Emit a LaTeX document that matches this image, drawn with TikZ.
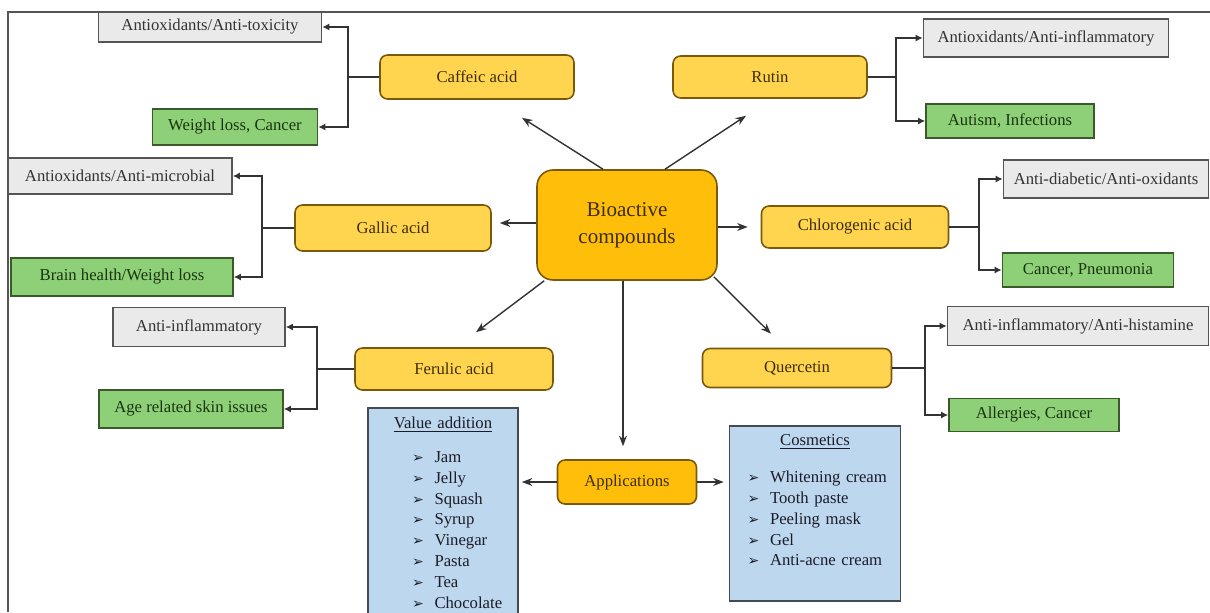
\documentclass[tikz,border=0pt]{standalone}
\usepackage{fontspec}
\setmainfont{Liberation Serif}
\newfontfamily\arrowfont{DejaVu Sans}
\usetikzlibrary{shapes,arrows.meta,calc}
\definecolor{acidfill}{HTML}{FFD44F}
\definecolor{acidline}{HTML}{7A5A0A}
\definecolor{acidtext}{HTML}{3E2E08}
\definecolor{hubfill}{HTML}{FFBE0A}
\definecolor{propfill}{HTML}{EAEAEA}
\definecolor{propline}{HTML}{555555}
\definecolor{proptext}{HTML}{333333}
\definecolor{effectfill}{HTML}{8ED077}
\definecolor{effectline}{HTML}{3A5A2C}
\definecolor{effecttext}{HTML}{1A3410}
\definecolor{listfill}{HTML}{BDD7EE}
\definecolor{listline}{HTML}{454A55}
\definecolor{listtext}{HTML}{1C1C28}
\definecolor{linecol}{HTML}{333333}
\tikzstyle{acid} = [rectangle, rounded corners=0.15cm, draw=acidline, line width=0.9pt, fill=acidfill, text=acidtext, align=center, inner sep=0pt, font=\fontsize{9.5}{11}\selectfont]
\tikzstyle{hub} = [acid, rounded corners=0.32cm, fill=hubfill, font=\fontsize{12}{15.4}\selectfont]
\tikzstyle{activity} = [rectangle, draw=propline, line width=0.9pt, fill=propfill, text=proptext, align=center, inner sep=0pt, font=\fontsize{9.5}{11}\selectfont]
\tikzstyle{effect} = [activity, draw=effectline, fill=effectfill, text=effecttext]
\tikzstyle{applist} = [rectangle, draw=listline, line width=0.9pt, fill=listfill, text=listtext, align=left, inner xsep=0pt, inner ysep=5pt, anchor=north, font=\fontsize{9.5}{11.9}\selectfont]
\tikzstyle{arrow} = [line width=0.8pt, draw=linecol, -{Stealth[length=6pt,width=4.5pt]}]
\tikzstyle{branch} = [line width=0.8pt, draw=linecol, -{Latex[length=4pt,width=4pt]}]
\tikzstyle{stub} = [line width=1.4pt, draw=linecol]
\newcommand{\itm}[1]{\makebox[0.45cm][l]{\arrowfont\fontsize{8}{8}\selectfont ➢}#1}

\begin{document}
\begin{tikzpicture}[x=0.02cm,y=-0.02cm]
\useasboundingbox (0,0) rectangle (1210,612);
\clip (0,0) rectangle (1210,612);

% centre and compounds
\node (bio) [hub, minimum width=3.6cm, minimum height=2.2cm] at (627,225) {Bioactive\\compounds};
\node (caf) [acid, minimum width=3.88cm, minimum height=0.88cm] at (477,77) {Caffeic acid};
\node (rut) [acid, minimum width=3.88cm, minimum height=0.84cm] at (770,77) {Rutin};
\node (gal) [acid, minimum width=3.92cm, minimum height=0.92cm] at (393,228) {Gallic acid};
\node (chl) [acid, minimum width=3.74cm, minimum height=0.84cm] at (855,227) {Chlorogenic acid};
\node (fer) [acid, minimum width=3.96cm, minimum height=0.84cm] at (454,369) {Ferulic acid};
\node (que) [acid, minimum width=3.78cm, minimum height=0.78cm] at (797,368) {Quercetin};
\node (app) [hub, font=\fontsize{9.5}{11}\selectfont, rounded corners=0.15cm, minimum width=2.78cm, minimum height=0.88cm] at (627,482) {Applications};

% activities and effects
\node (cafA) [activity, minimum width=4.46cm, minimum height=0.60cm] at (210,27) {Antioxidants/Anti-toxicity};
\node (cafB) [effect, minimum width=3.3cm, minimum height=0.72cm] at (235,127) {Weight loss, Cancer};
\node (rutA) [activity, minimum width=4.9cm, minimum height=0.76cm] at (1046,38) {Antioxidants/Anti-inflammatory};
\node (rutB) [effect, minimum width=3.36cm, minimum height=0.68cm] at (1010,121) {Autism, Infections};
\node (galA) [activity, minimum width=4.48cm, minimum height=0.72cm] at (120,176) {Antioxidants/Anti-microbial};
\node (galB) [effect, minimum width=4.44cm, minimum height=0.76cm] at (122,277) {Brain health/Weight loss};
\node (chlA) [activity, minimum width=4.1cm, minimum height=0.76cm] at (1106,179) {Anti-diabetic/Anti-oxidants};
\node (chlB) [effect, minimum width=3.42cm, minimum height=0.68cm] at (1088,270) {Cancer, Pneumonia};
\node (ferA) [activity, minimum width=3.44cm, minimum height=0.78cm] at (199,327) {Anti-inflammatory};
\node (ferB) [effect, minimum width=3.68cm, minimum height=0.76cm] at (191,409) {Age related skin issues};
\node (queA) [activity, minimum width=5.22cm, minimum height=0.78cm] at (1078,326) {Anti-inflammatory/Anti-histamine};
\node (queB) [effect, minimum width=3.4cm, minimum height=0.66cm] at (1034,415) {Allergies, Cancer};

% application lists
\node (val) [applist, text width=3.0cm] at (443,407) {\makebox[3.0cm]{\underline{Value addition}}\\[7.5pt]
\hspace*{0.88cm}\itm{Jam}\\
\hspace*{0.88cm}\itm{Jelly}\\
\hspace*{0.88cm}\itm{Squash}\\
\hspace*{0.88cm}\itm{Syrup}\\
\hspace*{0.88cm}\itm{Vinegar}\\
\hspace*{0.88cm}\itm{Pasta}\\
\hspace*{0.88cm}\itm{Tea}\\
\hspace*{0.88cm}\itm{Chocolate}};
\node (cos) [applist, text width=3.42cm] at (815,425) {\makebox[3.42cm]{\underline{Cosmetics}}\\[9pt]
\hspace*{0.36cm}\itm{Whitening cream}\\
\hspace*{0.36cm}\itm{Tooth paste}\\
\hspace*{0.36cm}\itm{Peeling mask}\\
\hspace*{0.36cm}\itm{Gel}\\
\hspace*{0.36cm}\itm{Anti-acne cream}\rule[-15pt]{0pt}{1pt}};

% junctions
\coordinate (cafj) at (348,77);
\coordinate (rutj) at (896,77);
\coordinate (galj) at (262,228);
\coordinate (chlj) at (979,227);
\coordinate (ferj) at (317,369);
\coordinate (quej) at (925,368);

% arrows from the centre
\draw [arrow] ($(bio.north)+(-24,0)$) -- ($(caf.south)+(45,18)$);
\draw [arrow] ($(bio.north)+(38,0)$) -- ($(rut.south)+(-24,17)$);
\draw [arrow] ($(bio.west)+(0,-2)$) -- ($(gal.east)+(8,-5)$);
\draw [arrow] ($(bio.east)+(0,2)$) -- ($(chl.west)+(-13,0)$);
\draw [arrow] ($(bio.south west)+(8,0)$) -- ($(fer.north)+(22,-15)$);
\draw [arrow] ($(bio.south east)+(-4,-4)$) -- ($(que.north)+(-26,-14)$);
\draw [arrow] ($(bio.south)+(-4,0)$) -- ($(app.north)+(-4,-13)$);
\draw [arrow, shorten >=0.06cm] (app.west) -- (app.west -| val.east);
\draw [arrow, shorten >=0.1cm] (app.east) -- (app.east -| cos.west);

% branches
\draw [stub] (caf.west) -- (cafj);
\draw [branch] (cafj) |- (cafA.east);
\draw [branch] (cafj) |- (cafB.east);
\draw [stub] (rut.east) -- (rutj);
\draw [branch] (rutj) |- (rutA.west);
\draw [branch] (rutj) |- (rutB.west);
\draw [stub] (gal.west) -- (galj);
\draw [branch] (galj) |- (galA.east);
\draw [branch] (galj) |- (galB.east);
\draw [stub] (chl.east) -- (chlj);
\draw [branch] (chlj) |- (chlA.west);
\draw [branch] (chlj) |- (chlB.west);
\draw [stub] (fer.west) -- (ferj);
\draw [branch] (ferj) |- (ferA.east);
\draw [branch] (ferj) |- (ferB.east);
\draw [stub] (que.east) -- (quej);
\draw [branch] (quej) |- (queA.west);
\draw [branch] (quej) |- (queB.west);

% frame
\draw [propline, line width=0.8pt] (8,612) -- (8,12) -- (1210,12);
\end{tikzpicture}
\end{document}
